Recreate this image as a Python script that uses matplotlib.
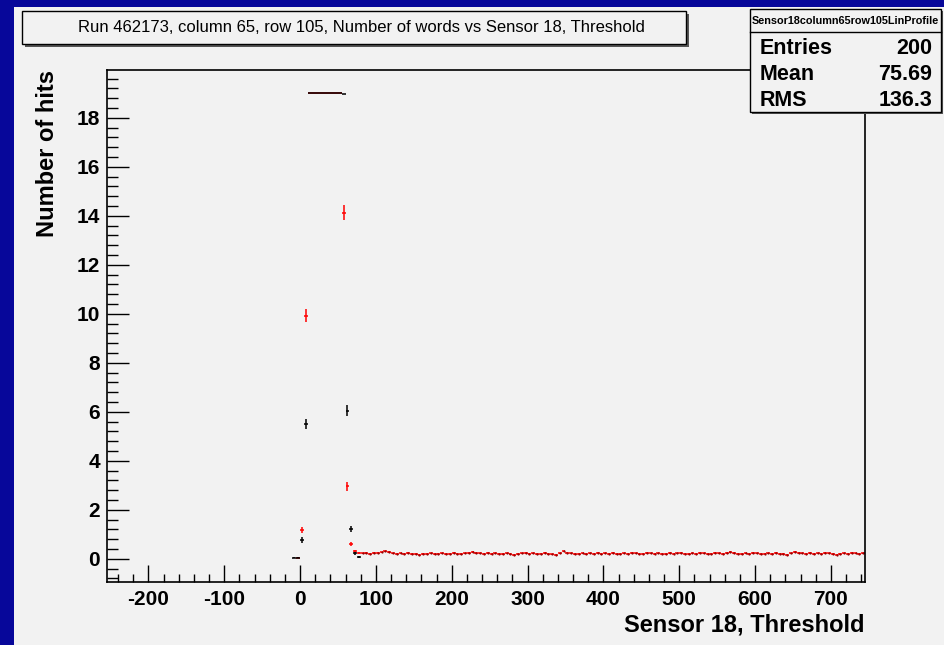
import matplotlib
matplotlib.use("Agg")
import matplotlib.pyplot as plt
from matplotlib.patches import Rectangle
import numpy as np

plt.rcParams['font.family'] = ['Liberation Sans', 'DejaVu Sans']
plt.rcParams['axes.unicode_minus'] = False

# black profile (bin centres, mean, error)
black_x = [-7.5, -2.5, 2.5, 7.5, 12.5, 17.5, 22.5, 27.5, 32.5, 37.5, 42.5,
           47.5, 52.5, 57.5, 62.5, 67.5, 72.5, 77.5]
black_y = [0.05, 0.05, 0.75, 5.5, 19.0, 19.0, 19.0, 19.0, 19.0, 19.0, 19.0,
           19.0, 19.0, 18.97, 6.05, 1.21, 0.23, 0.07]
black_err = [0.02, 0.02, 0.12, 0.19, 0.0, 0.0, 0.0, 0.0, 0.0, 0.0, 0.0,
             0.0, 0.0, 0.02, 0.24, 0.13, 0.06, 0.03]

# red profile, peak region
red_x = [-2.5, 2.5, 7.5, 12.5, 17.5, 22.5, 27.5, 32.5, 37.5, 42.5, 47.5,
         52.5, 57.5, 62.5, 67.5, 72.5, 77.5]
red_y = [0.05, 1.16, 9.92, 19.0, 19.0, 19.0, 19.0, 19.0, 19.0, 19.0, 19.0,
         19.0, 14.13, 2.95, 0.61, 0.30, 0.22]
red_err = [0.02, 0.12, 0.26, 0.0, 0.0, 0.0, 0.0, 0.0, 0.0, 0.0, 0.0,
           0.0, 0.29, 0.18, 0.09, 0.05, 0.04]

# red profile, flat tail from 82.5 to 742.5
tail_y = [0.22, 0.23, 0.21, 0.24, 0.25, 0.26, 0.30, 0.27, 0.22, 0.21,
          0.22, 0.21, 0.23, 0.20, 0.19, 0.17, 0.19, 0.21, 0.22, 0.20,
          0.21, 0.22, 0.20, 0.21, 0.23, 0.21, 0.20, 0.22, 0.23, 0.27,
          0.24, 0.22, 0.21, 0.23, 0.20, 0.22, 0.21, 0.20, 0.22, 0.19,
          0.17, 0.19, 0.22, 0.24, 0.21, 0.22, 0.20, 0.21, 0.23, 0.19,
          0.18, 0.17, 0.22, 0.30, 0.25, 0.22, 0.20, 0.21, 0.22, 0.20,
          0.22, 0.21, 0.23, 0.20, 0.22, 0.21, 0.23, 0.20, 0.19, 0.22,
          0.21, 0.24, 0.22, 0.20, 0.21, 0.23, 0.22, 0.20, 0.22, 0.21,
          0.20, 0.23, 0.21, 0.22, 0.24, 0.21, 0.20, 0.22, 0.21, 0.23,
          0.22, 0.20, 0.21, 0.23, 0.22, 0.21, 0.24, 0.27, 0.23, 0.21,
          0.20, 0.22, 0.21, 0.23, 0.22, 0.20, 0.21, 0.22, 0.20, 0.23,
          0.21, 0.19, 0.17, 0.22, 0.27, 0.24, 0.22, 0.21, 0.23, 0.20,
          0.22, 0.21, 0.23, 0.22, 0.19, 0.17, 0.20, 0.22, 0.21, 0.23,
          0.22, 0.21, 0.22]
tail_x = 82.5 + 5.0 * np.arange(len(tail_y))

title = "Run 462173, column 65, row 105, Number of words vs Sensor 18, Threshold"
stats_name = "Sensor18column65row105LinProfile"
stats = [("Entries", "200"), ("Mean", "75.69"), ("RMS", "136.3")]

W, H = 945, 645
fig = plt.figure(figsize=(W / 100, H / 100), dpi=100, facecolor='#07079a')
canvas = '#f2f2f2'
fig.patches.append(Rectangle((14 / W, 0), 1, 1 - 7 / H, transform=fig.transFigure,
                             facecolor=canvas, edgecolor='none', zorder=-5))


def px_box(x0, y0, x1, y1, shadow=3):
    """box in pixel coords (top-left origin) with a ROOT style shadow"""
    fig.patches.append(Rectangle(((x0 + shadow) / W, 1 - (y1 + shadow) / H),
                                 (x1 - x0) / W, (y1 - y0) / H, transform=fig.transFigure,
                                 facecolor='#555555', edgecolor='none', zorder=5))
    fig.patches.append(Rectangle((x0 / W, 1 - y1 / H), (x1 - x0) / W, (y1 - y0) / H,
                                 transform=fig.transFigure, facecolor=canvas,
                                 edgecolor='black', linewidth=1.0, zorder=6))


ax = fig.add_axes([106.7 / W, 1 - 582 / H, (865 - 106.7) / W, (582 - 70) / H])
ax.set_facecolor(canvas)
ax.set_xlim(-255, 745)
ax.set_ylim(-0.95, 19.95)

style = dict(xerr=2.5, elinewidth=1.1, capsize=0)
ax.errorbar(tail_x, tail_y, yerr=0.03, fmt='.', ms=1.2, color='red',
            mfc='#900000', mec='#900000', **style)
ax.errorbar(red_x, red_y, yerr=red_err, fmt='none', ecolor='red', **style)
ax.errorbar(black_x, black_y, yerr=black_err, fmt='none', ecolor='black', **style)

ax.set_xticks(np.arange(-200, 701, 100))
ax.set_xticks(np.arange(-240, 745, 20), minor=True)
ax.set_yticks(np.arange(0, 19, 2))
ax.set_yticks(np.arange(-0.8, 19.95, 0.4), minor=True)
ax.tick_params(axis='x', which='major', direction='in', length=12, width=1.0,
               pad=6, labelsize=15)
ax.tick_params(axis='x', which='minor', direction='in', length=6, width=1.0)
ax.tick_params(axis='y', which='major', direction='in', length=16, width=1.0,
               pad=5, labelsize=15)
ax.tick_params(axis='y', which='minor', direction='in', length=8, width=1.0)
for lab in ax.get_xticklabels() + ax.get_yticklabels():
    lab.set_fontweight('bold')
for sp in ax.spines.values():
    sp.set_linewidth(1.2)

fig.text(865 / W, 1 - 625 / H, "Sensor 18, Threshold", ha='right', va='center',
         fontsize=17, fontweight='bold')
fig.text(48 / W, 1 - 70 / H, "Number of hits", ha='center', va='top',
         rotation=90, fontsize=17, fontweight='bold')

# title pave
px_box(22, 11, 686, 44)
fig.text(361 / W, 1 - 27 / H, title, ha='center', va='center', fontsize=12,
         zorder=7)

# stats box
px_box(750, 9, 941, 112, shadow=2)
fig.lines.append(plt.Line2D([750 / W, 941 / W], [1 - 32 / H, 1 - 32 / H],
                            transform=fig.transFigure, color='black', lw=1.0, zorder=7))
fig.text(845.5 / W, 1 - 20.5 / H, stats_name, ha='center', va='center',
         fontsize=7.8, fontweight='bold', zorder=7)
for i, (k, v) in enumerate(stats):
    yy = 1 - (48 + 26 * i) / H
    fig.text(760 / W, yy, k, ha='left', va='center', fontsize=15.5,
             fontweight='bold', zorder=7)
    fig.text(932 / W, yy, v, ha='right', va='center', fontsize=15.5,
             fontweight='bold', zorder=7)

fig.savefig('out.png', dpi=100, facecolor=fig.get_facecolor())
